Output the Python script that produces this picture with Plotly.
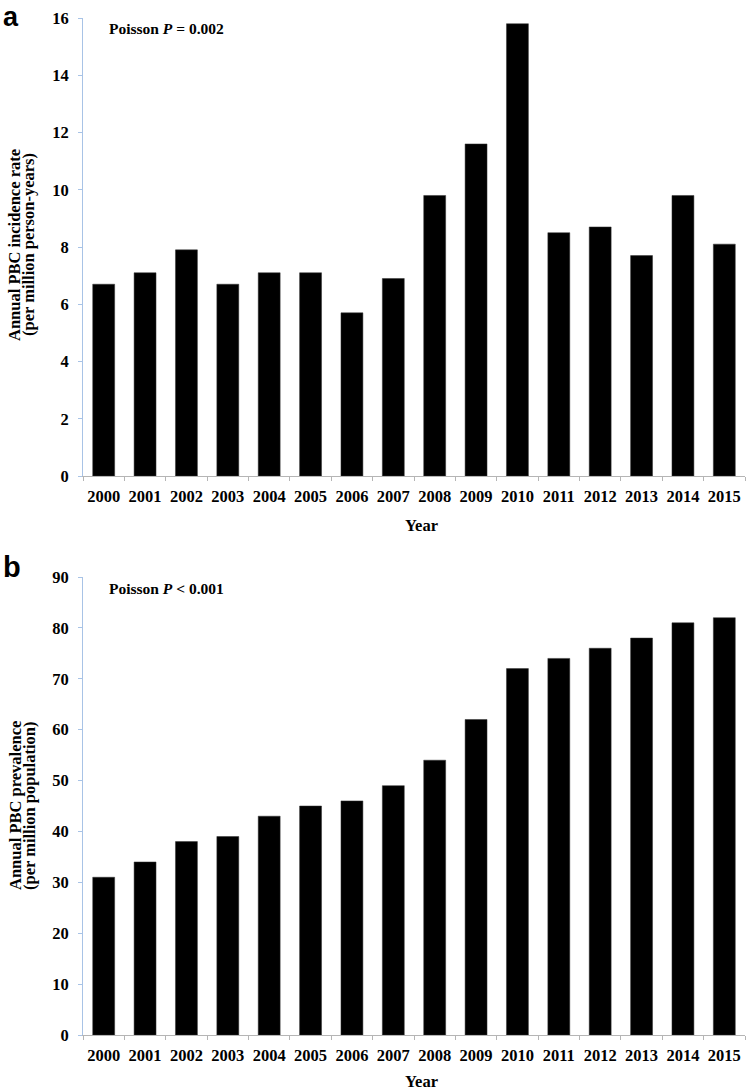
import plotly.graph_objects as go

# ---- data ----
years = [str(y) for y in range(2000, 2016)]
incidence = [6.7, 7.1, 7.9, 6.7, 7.1, 7.1, 5.7, 6.9, 9.8, 11.6, 15.8, 8.5, 8.7, 7.7, 9.8, 8.1]
prevalence = [31, 34, 38, 39, 43, 45, 46, 49, 54, 62, 72, 74, 76, 78, 81, 82]
inc_ticks = [0, 2, 4, 6, 8, 10, 12, 14, 16]
prev_ticks = [0, 10, 20, 30, 40, 50, 60, 70, 80, 90]

W, H = 746, 1091
L, R = 83, 1
PW = W - L - R


def fx(p):
    return (p - L) / PW


def fy(p):
    return 1 - p / H


SERIF = "Liberation Serif, Times New Roman, serif"
SANS = "Liberation Sans, Arial, sans-serif"
AXIS_BLUE = "#a8c3e6"
AXIS_GREY = "#b5b5b5"

fig = go.Figure()
fig.add_trace(go.Bar(x=years, y=incidence, xaxis="x", yaxis="y",
                     marker=dict(color="black", line=dict(color="#333333", width=0.5)),
                     showlegend=False))
fig.add_trace(go.Bar(x=years, y=prevalence, xaxis="x2", yaxis="y2",
                     marker=dict(color="black", line=dict(color="#333333", width=0.5)),
                     showlegend=False))

tickfont = dict(family=SERIF, size=16.5, color="black", weight="bold")

xcommon = dict(type="category", range=[-0.5, 15.5], showline=True, linecolor=AXIS_GREY,
               linewidth=1, ticks="outside", ticklen=4, tickcolor=AXIS_GREY,
               tickson="boundaries", showgrid=False, zeroline=False, tickfont=tickfont,
               tickangle=0, automargin=False, fixedrange=True, ticklabelstandoff=5)
ycommon = dict(showline=True, linecolor=AXIS_BLUE, linewidth=1, ticks="outside",
               ticklen=4, tickcolor=AXIS_BLUE, showgrid=False, zeroline=False,
               tickfont=tickfont, automargin=False, ticklabelstandoff=6, fixedrange=True)

fig.update_layout(
    width=W, height=H,
    margin=dict(l=L, r=R, t=0, b=0),
    paper_bgcolor="white", plot_bgcolor="white",
    template="none",
    bargap=0.47,
    xaxis=dict(domain=[0, 1], anchor="y", **xcommon),
    yaxis=dict(domain=[fy(476), fy(18)], anchor="x", range=[0, 16],
               tickvals=inc_ticks, **ycommon),
    xaxis2=dict(domain=[0, 1], anchor="y2", **xcommon),
    yaxis2=dict(domain=[fy(1035), fy(577)], anchor="x2", range=[0, 90],
                tickvals=prev_ticks, **ycommon),
)

titlefont = dict(family=SERIF, size=16.5, color="black", weight="bold")
ann = []
# panel letters
ann.append(dict(text="a", x=fx(1), y=1, xanchor="left", yanchor="top",
                font=dict(family=SANS, size=27, color="black", weight="bold")))
ann.append(dict(text="b", x=fx(1), y=fy(585), xanchor="left", yanchor="bottom",
                font=dict(family=SANS, size=29, color="black", weight="bold")))
# Poisson notes
ann.append(dict(text="Poisson <i>P</i> = 0.002", x=fx(107), y=fy(28), xanchor="left",
                yanchor="middle", font=dict(family=SERIF, size=15.5, color="black", weight="bold")))
ann.append(dict(text="Poisson <i>P</i> &lt; 0.001", x=fx(107), y=fy(588), xanchor="left",
                yanchor="middle", font=dict(family=SERIF, size=15.5, color="black", weight="bold")))
# y titles
ann.append(dict(text="Annual PBC incidence rate", x=fx(15), y=fy(245), textangle=-90,
                xanchor="center", yanchor="middle", font=titlefont))
ann.append(dict(text="(per million person-years)", x=fx(29), y=fy(245), textangle=-90,
                xanchor="center", yanchor="middle", font=titlefont))
ann.append(dict(text="Annual PBC prevalence", x=fx(15), y=fy(806), textangle=-90,
                xanchor="center", yanchor="middle", font=titlefont))
ann.append(dict(text="(per million population)", x=fx(29), y=fy(806), textangle=-90,
                xanchor="center", yanchor="middle", font=titlefont))
# x titles
ann.append(dict(text="Year", x=fx(421), y=fy(525), xanchor="center", yanchor="middle",
                font=titlefont))
ann.append(dict(text="Year", x=fx(421), y=fy(1081), xanchor="center", yanchor="middle",
                font=titlefont))

for a in ann:
    a.update(xref="paper", yref="paper", showarrow=False)
fig.update_layout(annotations=ann)

fig.write_html(
    "out.html",
    config={"displayModeBar": False},
    post_script="document.body.style.margin='0';document.body.style.overflow='hidden';",
)
